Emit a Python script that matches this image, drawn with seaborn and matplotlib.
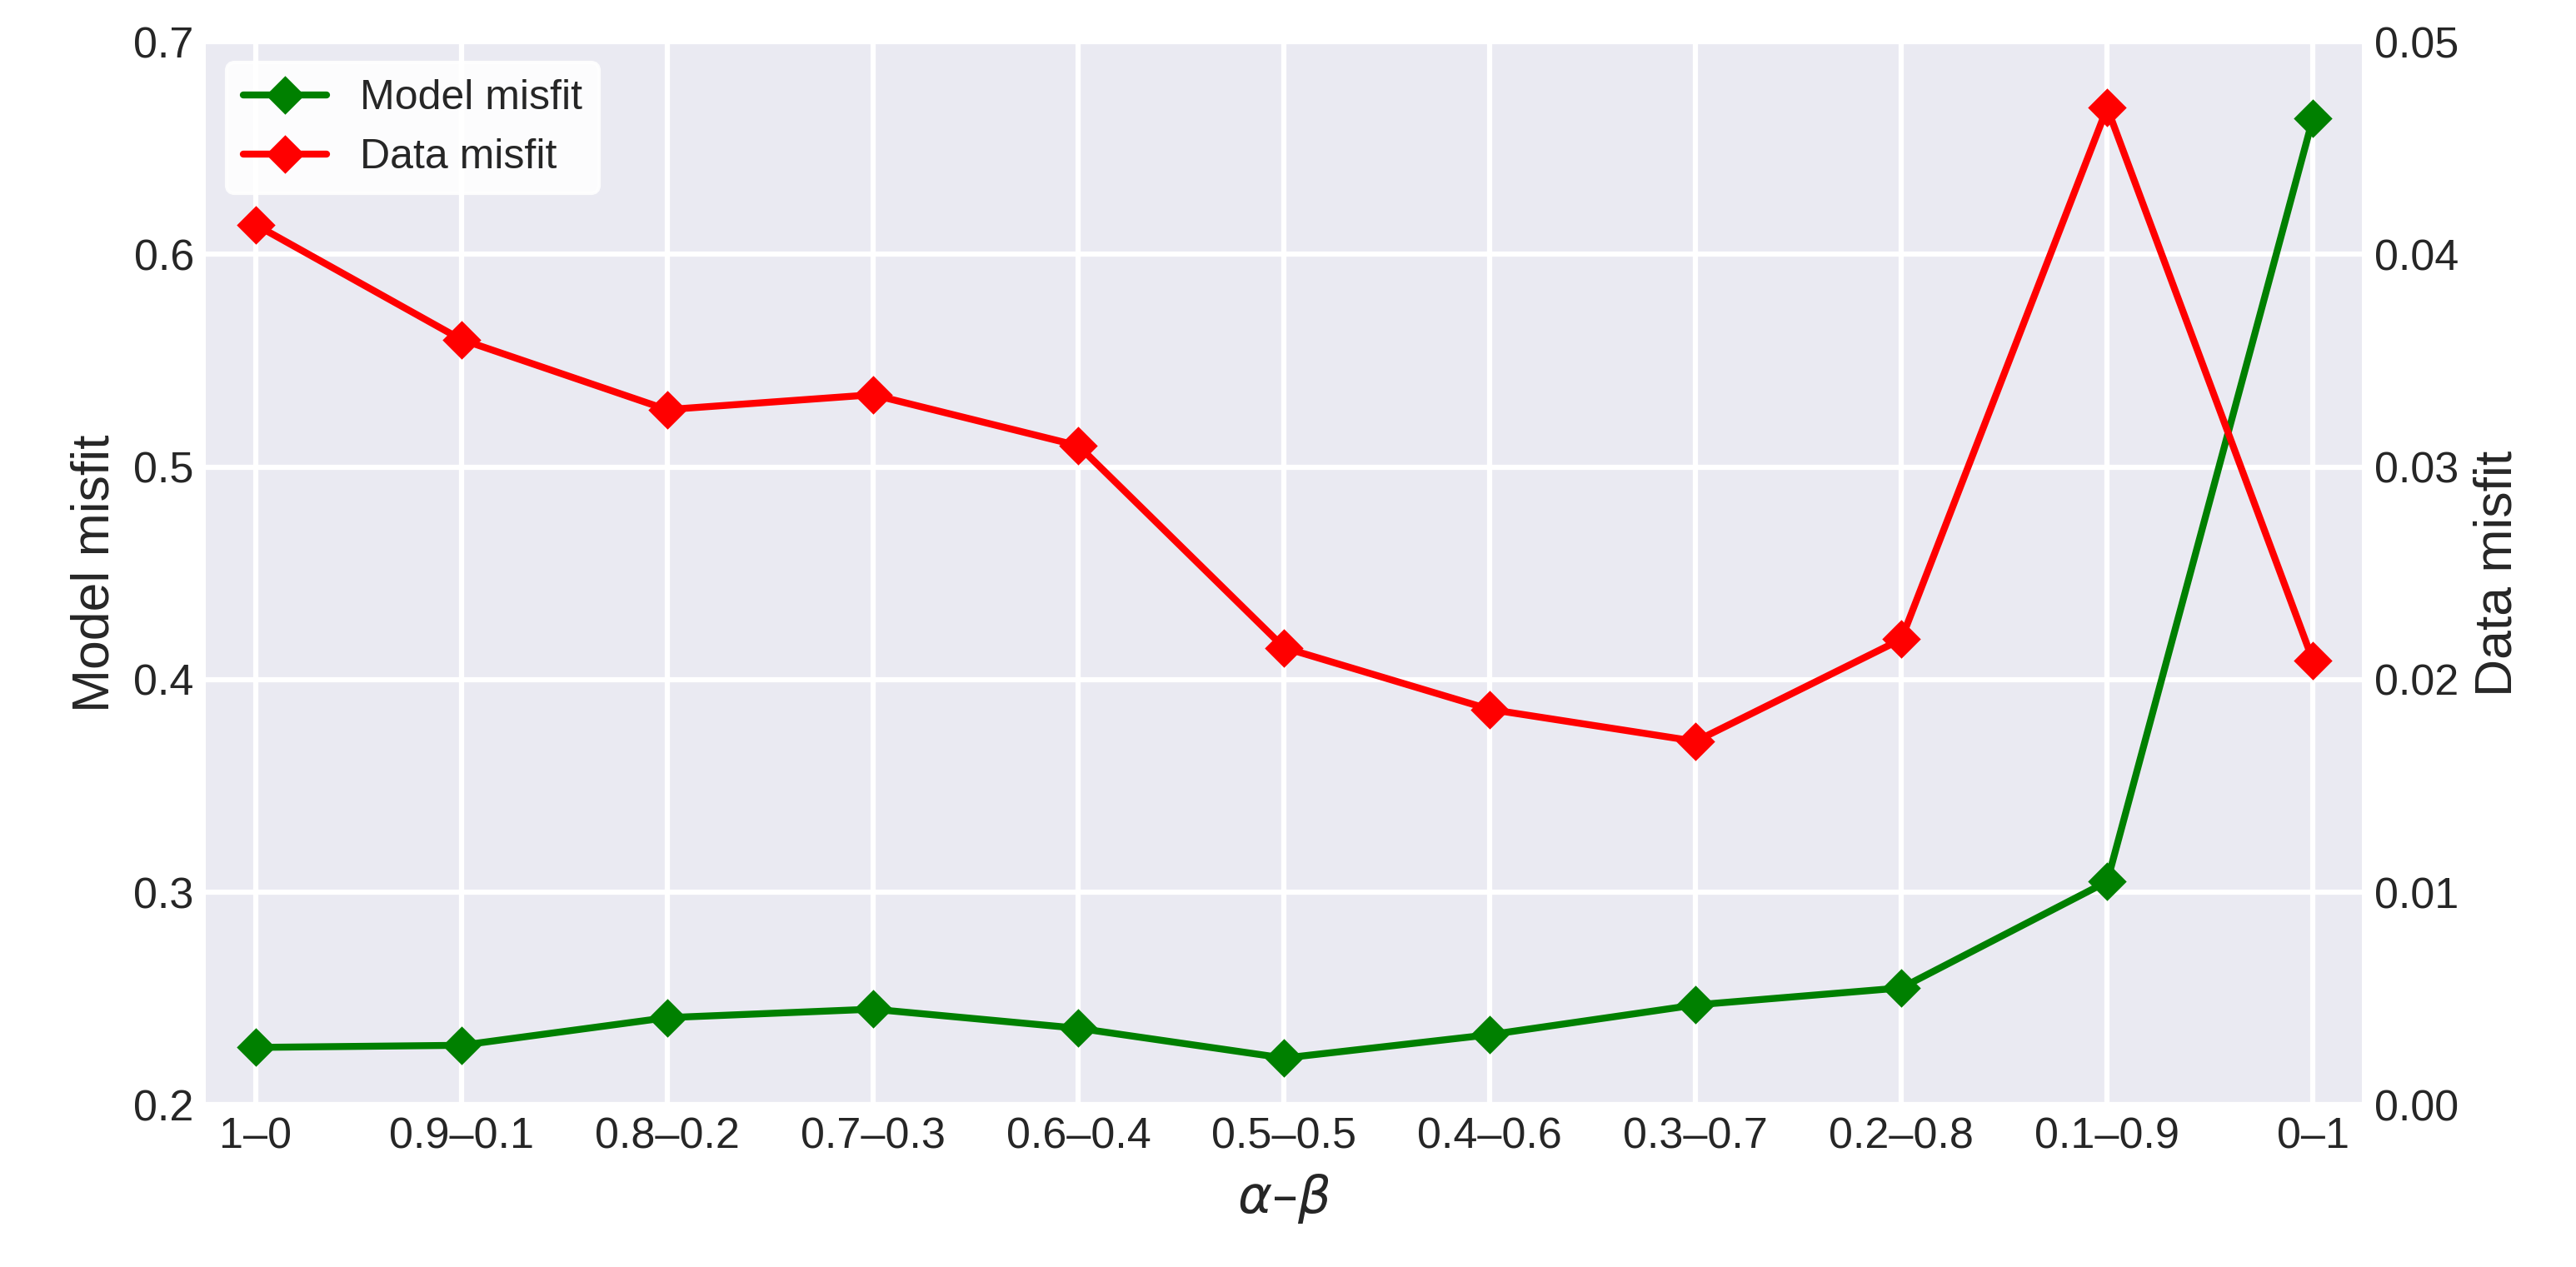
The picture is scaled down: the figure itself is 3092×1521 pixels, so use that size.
import matplotlib
matplotlib.use("Agg")
import matplotlib.pyplot as plt
import seaborn as sns
import numpy as np

categories = ["1–0", "0.9–0.1", "0.8–0.2", "0.7–0.3", "0.6–0.4", "0.5–0.5",
              "0.4–0.6", "0.3–0.7", "0.2–0.8", "0.1–0.9", "0–1"]
model_misfit = [0.227, 0.228, 0.241, 0.245, 0.236, 0.222, 0.233, 0.247, 0.255, 0.305, 0.664]
data_misfit = [0.0414, 0.0360, 0.0327, 0.0334, 0.0310, 0.0215, 0.0186, 0.0171, 0.0219, 0.0469, 0.0209]

sns.set_theme(style="darkgrid", rc={"grid.linewidth": 1.5})
plt.rcParams['font.family'] = ['Liberation Sans', 'DejaVu Sans']

fig = plt.figure(figsize=(10.307, 5.07), dpi=300)
ax = fig.add_axes([0.08, 0.128, 0.837, 0.839])
x = np.arange(len(categories))
sns.lineplot(x=x, y=model_misfit, ax=ax, color="green", marker="D", markersize=7,
             markeredgecolor="green", linewidth=2, label="Model misfit", legend=False)
ax2 = ax.twinx()
sns.lineplot(x=x, y=data_misfit, ax=ax2, color="red", marker="D", markersize=7,
             markeredgecolor="red", linewidth=2, label="Data misfit", legend=False)
ax2.grid(False)
for a in (ax, ax2):
    a.tick_params(length=0, labelsize=12.5)
    for s in a.spines.values():
        s.set_visible(False)

ax.set_xlim(-0.24, 10.24)
ax.set_ylim(0.2, 0.7)
ax2.set_ylim(0, 0.05)
ax.set_xticks(x)
ax.set_xticklabels(categories)
ax.set_yticks([0.2, 0.3, 0.4, 0.5, 0.6, 0.7])
ax.set_yticklabels(["0.2", "0.3", "0.4", "0.5", "0.6", "0.7"])
ax2.set_yticks([0, 0.01, 0.02, 0.03, 0.04, 0.05])
ax2.set_yticklabels(["0.00", "0.01", "0.02", "0.03", "0.04", "0.05"])
ax.set_xlabel(r"$\alpha$–$\beta$", fontsize=15)
ax.set_ylabel("Model misfit", fontsize=15)
ax2.set_ylabel("Data misfit", fontsize=15)

h1, l1 = ax.get_legend_handles_labels()
h2, l2 = ax2.get_legend_handles_labels()
ax2.legend(h1 + h2, l1 + l2, loc="upper left", fontsize=12, facecolor="white",
           framealpha=0.9, edgecolor="white")

fig.savefig("out.png", dpi=300)
